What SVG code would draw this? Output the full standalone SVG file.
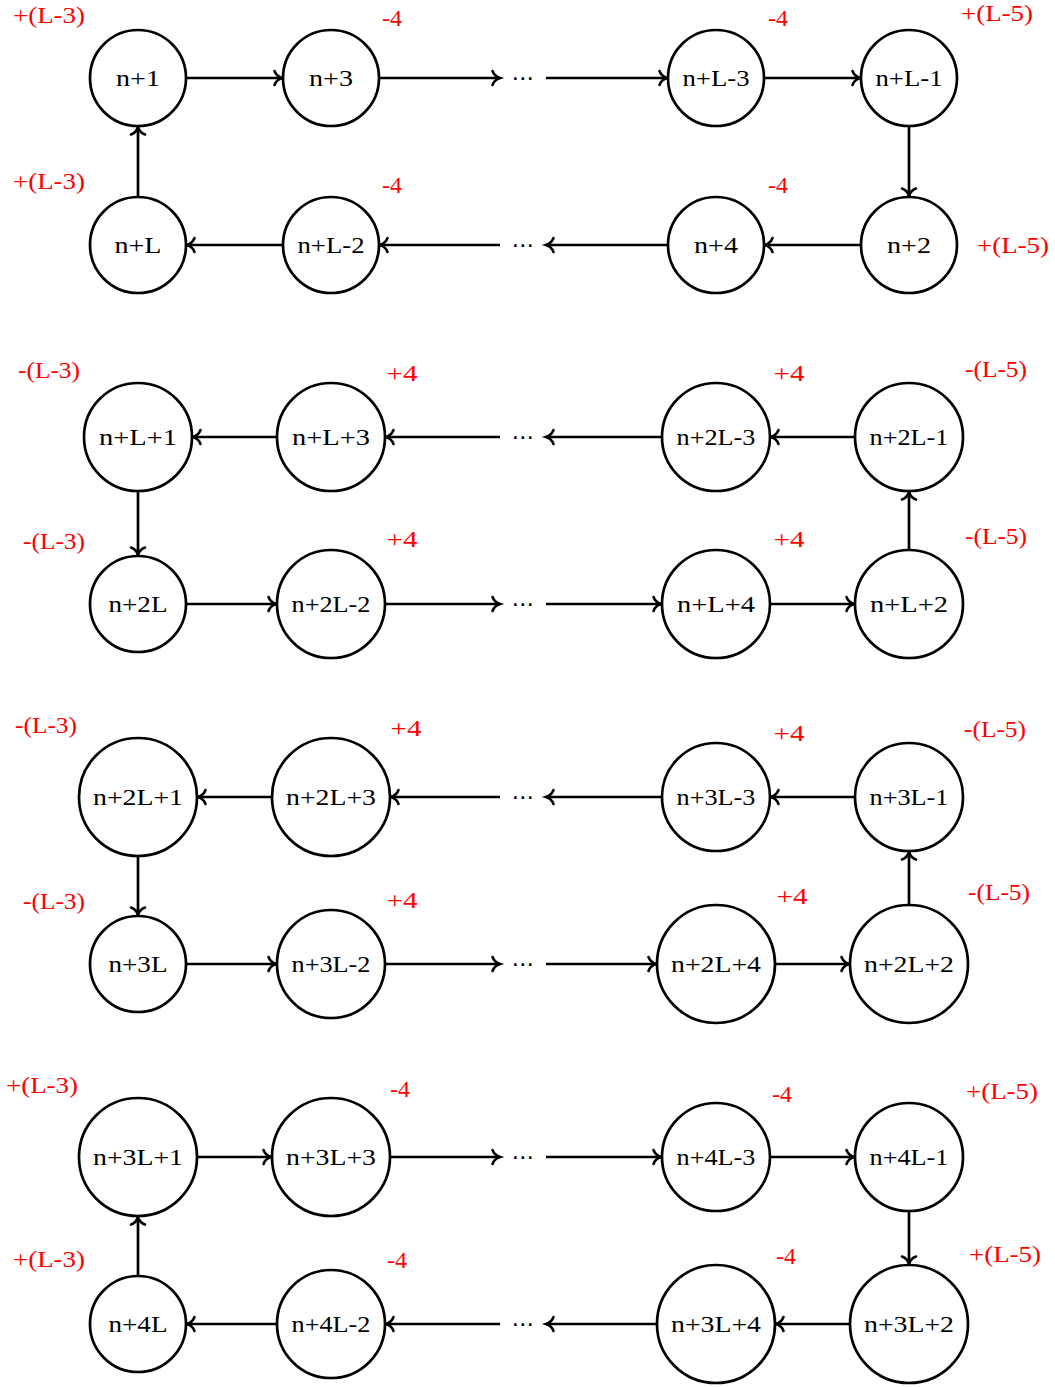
<svg xmlns="http://www.w3.org/2000/svg" width="1055" height="1387" viewBox="0 0 1055 1387">
<style>
.nd circle{fill:#fff;stroke:#000;stroke-width:2.7}
.nd text{font-family:"Liberation Serif","Times New Roman",serif;font-size:24px;fill:#000;text-anchor:middle}
.lb{font-family:"Liberation Serif","Times New Roman",serif;font-size:24px;fill:#ff0000;text-anchor:middle}
.dt{font-family:"DejaVu Sans",sans-serif;font-size:23px;fill:#000;text-anchor:middle}
.ed line{stroke:#000;stroke-width:2.7;fill:none;marker-end:url(#ah)}
</style>
<defs>
<marker id="ah" markerUnits="userSpaceOnUse" markerWidth="12" markerHeight="18" viewBox="-10 -9 12 18" refX="0" refY="0" orient="auto" overflow="visible">
<path d="M-7.5,-7 C-6,-2.8 -2.2,-0.7 0,0 C-2.2,0.7 -6,2.8 -7.5,7" fill="none" stroke="#000" stroke-width="2.6" stroke-linecap="round"/>
</marker>
</defs>
<rect width="1055" height="1387" fill="#fff"/>
<g id="connectors" class="ed">
<line x1="186" y1="78" x2="282" y2="78"/>
<line x1="379" y1="78" x2="500" y2="78"/>
<line x1="546" y1="78" x2="667" y2="78"/>
<line x1="764" y1="78" x2="860" y2="78"/>
<line x1="909" y1="126" x2="909" y2="196"/>
<line x1="861" y1="245" x2="765" y2="245"/>
<line x1="668" y1="245" x2="546" y2="245"/>
<line x1="500" y1="245" x2="380" y2="245"/>
<line x1="283" y1="245" x2="187" y2="245"/>
<line x1="138" y1="197" x2="138" y2="127"/>
<line x1="855" y1="437" x2="771" y2="437"/>
<line x1="662" y1="437" x2="546" y2="437"/>
<line x1="500" y1="437" x2="386" y2="437"/>
<line x1="277" y1="437" x2="193" y2="437"/>
<line x1="138" y1="491" x2="138" y2="555"/>
<line x1="186" y1="604" x2="276" y2="604"/>
<line x1="385" y1="604" x2="500" y2="604"/>
<line x1="546" y1="604" x2="661" y2="604"/>
<line x1="770" y1="604" x2="854" y2="604"/>
<line x1="909" y1="550" x2="909" y2="492"/>
<line x1="855" y1="797" x2="771" y2="797"/>
<line x1="662" y1="797" x2="546" y2="797"/>
<line x1="500" y1="797" x2="391" y2="797"/>
<line x1="272" y1="797" x2="198" y2="797"/>
<line x1="138" y1="856" x2="138" y2="915"/>
<line x1="186" y1="964" x2="276" y2="964"/>
<line x1="385" y1="964" x2="500" y2="964"/>
<line x1="546" y1="964" x2="656" y2="964"/>
<line x1="775" y1="964" x2="849" y2="964"/>
<line x1="909" y1="905" x2="909" y2="852"/>
<line x1="197" y1="1157" x2="271" y2="1157"/>
<line x1="390" y1="1157" x2="500" y2="1157"/>
<line x1="546" y1="1157" x2="661" y2="1157"/>
<line x1="770" y1="1157" x2="854" y2="1157"/>
<line x1="909" y1="1211" x2="909" y2="1264"/>
<line x1="850" y1="1324" x2="776" y2="1324"/>
<line x1="657" y1="1324" x2="546" y2="1324"/>
<line x1="500" y1="1324" x2="386" y2="1324"/>
<line x1="277" y1="1324" x2="187" y2="1324"/>
<line x1="138" y1="1276" x2="138" y2="1217"/>
</g>
<g id="dots">
<text class="dt" x="523" y="86">⋯</text>
<text class="dt" x="523" y="253">⋯</text>
<text class="dt" x="523" y="445">⋯</text>
<text class="dt" x="523" y="612">⋯</text>
<text class="dt" x="523" y="805">⋯</text>
<text class="dt" x="523" y="972">⋯</text>
<text class="dt" x="523" y="1165">⋯</text>
<text class="dt" x="523" y="1332">⋯</text>
</g>
<g id="n_1" class="nd"><circle cx="138" cy="78" r="48"/><text x="138" y="86" textLength="44" lengthAdjust="spacingAndGlyphs">n+1</text></g>
<g id="n_3" class="nd"><circle cx="331" cy="78" r="48"/><text x="331" y="86" textLength="44" lengthAdjust="spacingAndGlyphs">n+3</text></g>
<g id="n_L-3" class="nd"><circle cx="716" cy="78" r="48"/><text x="716" y="86" textLength="67" lengthAdjust="spacingAndGlyphs">n+L-3</text></g>
<g id="n_L-1" class="nd"><circle cx="909" cy="78" r="48"/><text x="909" y="86" textLength="67" lengthAdjust="spacingAndGlyphs">n+L-1</text></g>
<g id="n_L" class="nd"><circle cx="138" cy="245" r="48"/><text x="138" y="253" textLength="47" lengthAdjust="spacingAndGlyphs">n+L</text></g>
<g id="n_L-2" class="nd"><circle cx="331" cy="245" r="48"/><text x="331" y="253" textLength="67" lengthAdjust="spacingAndGlyphs">n+L-2</text></g>
<g id="n_4" class="nd"><circle cx="716" cy="245" r="48"/><text x="716" y="253" textLength="44" lengthAdjust="spacingAndGlyphs">n+4</text></g>
<g id="n_2" class="nd"><circle cx="909" cy="245" r="48"/><text x="909" y="253" textLength="44" lengthAdjust="spacingAndGlyphs">n+2</text></g>
<g id="n_L+1" class="nd"><circle cx="138" cy="437" r="54"/><text x="138" y="445" textLength="78" lengthAdjust="spacingAndGlyphs">n+L+1</text></g>
<g id="n_L+3" class="nd"><circle cx="331" cy="437" r="54"/><text x="331" y="445" textLength="78" lengthAdjust="spacingAndGlyphs">n+L+3</text></g>
<g id="n_2L-3" class="nd"><circle cx="716" cy="437" r="54"/><text x="716" y="445" textLength="79" lengthAdjust="spacingAndGlyphs">n+2L-3</text></g>
<g id="n_2L-1" class="nd"><circle cx="909" cy="437" r="54"/><text x="909" y="445" textLength="79" lengthAdjust="spacingAndGlyphs">n+2L-1</text></g>
<g id="n_2L" class="nd"><circle cx="138" cy="604" r="48"/><text x="138" y="612" textLength="59" lengthAdjust="spacingAndGlyphs">n+2L</text></g>
<g id="n_2L-2" class="nd"><circle cx="331" cy="604" r="54"/><text x="331" y="612" textLength="79" lengthAdjust="spacingAndGlyphs">n+2L-2</text></g>
<g id="n_L+4" class="nd"><circle cx="716" cy="604" r="54"/><text x="716" y="612" textLength="78" lengthAdjust="spacingAndGlyphs">n+L+4</text></g>
<g id="n_L+2" class="nd"><circle cx="909" cy="604" r="54"/><text x="909" y="612" textLength="78" lengthAdjust="spacingAndGlyphs">n+L+2</text></g>
<g id="n_2L+1" class="nd"><circle cx="138" cy="797" r="59"/><text x="138" y="805" textLength="90" lengthAdjust="spacingAndGlyphs">n+2L+1</text></g>
<g id="n_2L+3" class="nd"><circle cx="331" cy="797" r="59"/><text x="331" y="805" textLength="90" lengthAdjust="spacingAndGlyphs">n+2L+3</text></g>
<g id="n_3L-3" class="nd"><circle cx="716" cy="797" r="54"/><text x="716" y="805" textLength="79" lengthAdjust="spacingAndGlyphs">n+3L-3</text></g>
<g id="n_3L-1" class="nd"><circle cx="909" cy="797" r="54"/><text x="909" y="805" textLength="79" lengthAdjust="spacingAndGlyphs">n+3L-1</text></g>
<g id="n_3L" class="nd"><circle cx="138" cy="964" r="48"/><text x="138" y="972" textLength="59" lengthAdjust="spacingAndGlyphs">n+3L</text></g>
<g id="n_3L-2" class="nd"><circle cx="331" cy="964" r="54"/><text x="331" y="972" textLength="79" lengthAdjust="spacingAndGlyphs">n+3L-2</text></g>
<g id="n_2L+4" class="nd"><circle cx="716" cy="964" r="59"/><text x="716" y="972" textLength="90" lengthAdjust="spacingAndGlyphs">n+2L+4</text></g>
<g id="n_2L+2" class="nd"><circle cx="909" cy="964" r="59"/><text x="909" y="972" textLength="90" lengthAdjust="spacingAndGlyphs">n+2L+2</text></g>
<g id="n_3L+1" class="nd"><circle cx="138" cy="1157" r="59"/><text x="138" y="1165" textLength="90" lengthAdjust="spacingAndGlyphs">n+3L+1</text></g>
<g id="n_3L+3" class="nd"><circle cx="331" cy="1157" r="59"/><text x="331" y="1165" textLength="90" lengthAdjust="spacingAndGlyphs">n+3L+3</text></g>
<g id="n_4L-3" class="nd"><circle cx="716" cy="1157" r="54"/><text x="716" y="1165" textLength="79" lengthAdjust="spacingAndGlyphs">n+4L-3</text></g>
<g id="n_4L-1" class="nd"><circle cx="909" cy="1157" r="54"/><text x="909" y="1165" textLength="79" lengthAdjust="spacingAndGlyphs">n+4L-1</text></g>
<g id="n_4L" class="nd"><circle cx="138" cy="1324" r="48"/><text x="138" y="1332" textLength="59" lengthAdjust="spacingAndGlyphs">n+4L</text></g>
<g id="n_4L-2" class="nd"><circle cx="331" cy="1324" r="54"/><text x="331" y="1332" textLength="79" lengthAdjust="spacingAndGlyphs">n+4L-2</text></g>
<g id="n_3L+4" class="nd"><circle cx="716" cy="1324" r="59"/><text x="716" y="1332" textLength="90" lengthAdjust="spacingAndGlyphs">n+3L+4</text></g>
<g id="n_3L+2" class="nd"><circle cx="909" cy="1324" r="59"/><text x="909" y="1332" textLength="90" lengthAdjust="spacingAndGlyphs">n+3L+2</text></g>
<g id="labels">
<text class="lb" x="49" y="23" textLength="72" lengthAdjust="spacingAndGlyphs">+(L-3)</text>
<text class="lb" x="392" y="26" textLength="20" lengthAdjust="spacingAndGlyphs">-4</text>
<text class="lb" x="778" y="26" textLength="20" lengthAdjust="spacingAndGlyphs">-4</text>
<text class="lb" x="997" y="21" textLength="72" lengthAdjust="spacingAndGlyphs">+(L-5)</text>
<text class="lb" x="49" y="189" textLength="72" lengthAdjust="spacingAndGlyphs">+(L-3)</text>
<text class="lb" x="392" y="193" textLength="20" lengthAdjust="spacingAndGlyphs">-4</text>
<text class="lb" x="778" y="193" textLength="20" lengthAdjust="spacingAndGlyphs">-4</text>
<text class="lb" x="1013" y="253" textLength="72" lengthAdjust="spacingAndGlyphs">+(L-5)</text>
<text class="lb" x="49" y="378" textLength="62" lengthAdjust="spacingAndGlyphs">-(L-3)</text>
<text class="lb" x="402" y="381" textLength="31" lengthAdjust="spacingAndGlyphs">+4</text>
<text class="lb" x="789" y="381" textLength="31" lengthAdjust="spacingAndGlyphs">+4</text>
<text class="lb" x="996" y="377" textLength="62" lengthAdjust="spacingAndGlyphs">-(L-5)</text>
<text class="lb" x="54" y="549" textLength="62" lengthAdjust="spacingAndGlyphs">-(L-3)</text>
<text class="lb" x="402" y="547" textLength="31" lengthAdjust="spacingAndGlyphs">+4</text>
<text class="lb" x="789" y="547" textLength="31" lengthAdjust="spacingAndGlyphs">+4</text>
<text class="lb" x="996" y="544" textLength="62" lengthAdjust="spacingAndGlyphs">-(L-5)</text>
<text class="lb" x="46" y="733" textLength="62" lengthAdjust="spacingAndGlyphs">-(L-3)</text>
<text class="lb" x="406" y="736" textLength="31" lengthAdjust="spacingAndGlyphs">+4</text>
<text class="lb" x="789" y="741" textLength="31" lengthAdjust="spacingAndGlyphs">+4</text>
<text class="lb" x="995" y="737" textLength="62" lengthAdjust="spacingAndGlyphs">-(L-5)</text>
<text class="lb" x="54" y="909" textLength="62" lengthAdjust="spacingAndGlyphs">-(L-3)</text>
<text class="lb" x="402" y="908" textLength="31" lengthAdjust="spacingAndGlyphs">+4</text>
<text class="lb" x="792" y="904" textLength="31" lengthAdjust="spacingAndGlyphs">+4</text>
<text class="lb" x="999" y="900" textLength="62" lengthAdjust="spacingAndGlyphs">-(L-5)</text>
<text class="lb" x="42" y="1093" textLength="72" lengthAdjust="spacingAndGlyphs">+(L-3)</text>
<text class="lb" x="400" y="1097" textLength="20" lengthAdjust="spacingAndGlyphs">-4</text>
<text class="lb" x="782" y="1102" textLength="20" lengthAdjust="spacingAndGlyphs">-4</text>
<text class="lb" x="1002" y="1099" textLength="72" lengthAdjust="spacingAndGlyphs">+(L-5)</text>
<text class="lb" x="49" y="1267" textLength="72" lengthAdjust="spacingAndGlyphs">+(L-3)</text>
<text class="lb" x="397" y="1268" textLength="20" lengthAdjust="spacingAndGlyphs">-4</text>
<text class="lb" x="786" y="1264" textLength="20" lengthAdjust="spacingAndGlyphs">-4</text>
<text class="lb" x="1005" y="1262" textLength="72" lengthAdjust="spacingAndGlyphs">+(L-5)</text>
</g>
</svg>
